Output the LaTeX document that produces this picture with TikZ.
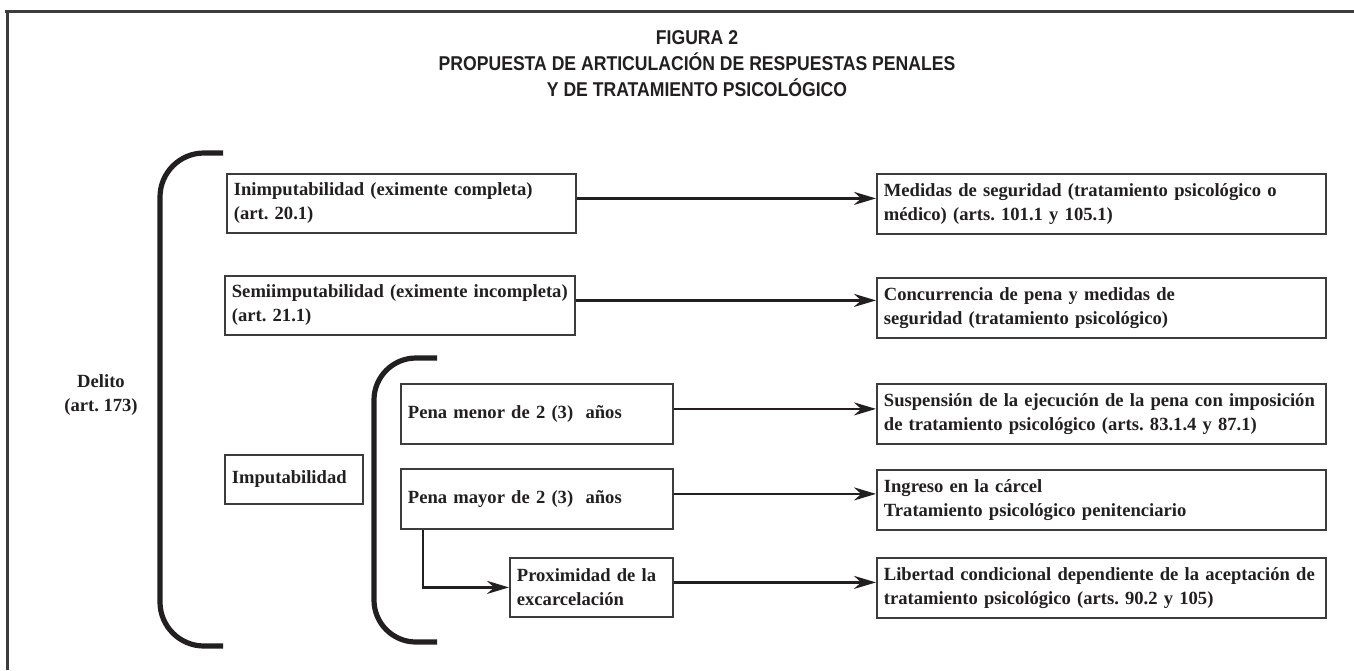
\documentclass[tikz,border=0pt]{standalone}
\usepackage{fontspec}
\setmainfont{Liberation Serif}
\newfontfamily\titlefont[FakeStretch=0.88]{Liberation Sans}
\usepackage{tikz}
\usetikzlibrary{arrows.meta}
\frenchspacing

\definecolor{ink}{HTML}{231F20}
\definecolor{edge}{HTML}{3C3C3C}

\tikzset{
  box/.style={draw=edge, line width=0.9pt, anchor=north west, align=left,
    inner xsep=3.5pt, inner ysep=0pt, text=ink,
    font=\fontsize{9.3}{12}\selectfont\bfseries},
  arr/.style={ink, line width=1.4pt, -{Stealth[length=11pt,width=6.5pt]}},
  brace/.style={ink, line width=2.6pt},
}

\begin{document}
\begin{tikzpicture}[x=0.5pt,y=-0.5pt]
\useasboundingbox (0,0) rectangle (1354,670);

% frame
\draw[edge, line width=1.5pt] (5,11) -- (1354,11);
\draw[edge, line width=1.5pt] (7,11) -- (7,670);

\node[text=ink, align=center, font=\titlefont\bfseries\fontsize{10}{13}\selectfont] (titulo) at (697,64)
  {FIGURA 2\\PROPUESTA DE ARTICULACIÓN DE RESPUESTAS PENALES\\Y DE TRATAMIENTO PSICOLÓGICO};

% brackets
\draw[brace, rounded corners=22pt] (223,153) -- (160,153) -- (160,646) -- (223,646);
\draw[brace, rounded corners=21pt] (437,358) -- (374,358) -- (374,642) -- (437,642);

\node[text=ink, align=center, font=\fontsize{9.3}{12}\selectfont\bfseries] (delito) at (101,395) {Delito\\(art. 173)};

% left column
\node[box, text width=167.5pt, minimum height=29.5pt] (inimp) at (226,173) {Inimputabilidad (eximente completa)\\(art. 20.1)};
\node[box, text width=168pt, minimum height=29.5pt] (semi) at (224,275) {Semiimputabilidad (eximente incompleta)\\(art. 21.1)};
\node[box, text width=62pt, minimum height=24.5pt] (imput) at (224,454) {Imputabilidad};

\node[box, text width=129pt, minimum height=30pt] (menor) at (400,383) {Pena menor de 2 (3)~ años};
\node[box, text width=129pt, minimum height=30pt] (mayor) at (400,468) {Pena mayor de 2 (3)~ años};
\node[box, text width=74.5pt, minimum height=29.5pt] (prox) at (509,557) {Proximidad de la\\excarcelación};

% right column
\node[box, text width=217.5pt, minimum height=30pt] (medidas) at (876,173) {Medidas de seguridad (tratamiento psicológico o\\médico) (arts. 101.1 y 105.1)};
\node[box, text width=217.5pt, minimum height=30pt] (concur) at (876,277) {Concurrencia de pena y medidas de\\seguridad (tratamiento psicológico)};
\node[box, text width=217.5pt, minimum height=30pt] (susp) at (876,383) {Suspensión de la ejecución de la pena con imposición\\de tratamiento psicológico (arts. 83.1.4 y 87.1)};
\node[box, text width=217.5pt, minimum height=30pt] (ingreso) at (876,469) {Ingreso en la cárcel\\Tratamiento psicológico penitenciario};
\node[box, text width=217.5pt, minimum height=30pt] (libertad) at (876,557) {Libertad condicional dependiente de la aceptación de\\tratamiento psicológico (arts. 90.2 y 105)};

% arrows
\draw[arr] ([yshift=2.5pt]inimp.east) -- ([yshift=2.5pt]inimp.east -| medidas.west);
\draw[arr] ([yshift=2.5pt]semi.east) -- ([yshift=2.5pt]semi.east -| concur.west);
\draw[arr] ([yshift=2.5pt]menor.east) -- ([yshift=2.5pt]menor.east -| susp.west);
\draw[arr] ([yshift=2.5pt]mayor.east) -- ([yshift=2.5pt]mayor.east -| ingreso.west);
\draw[arr] ([yshift=2.5pt]prox.east) -- ([yshift=2.5pt]prox.east -| libertad.west);
\draw[arr] ([xshift=11.5pt]mayor.south west) |- (prox.west);

\end{tikzpicture}
\end{document}
